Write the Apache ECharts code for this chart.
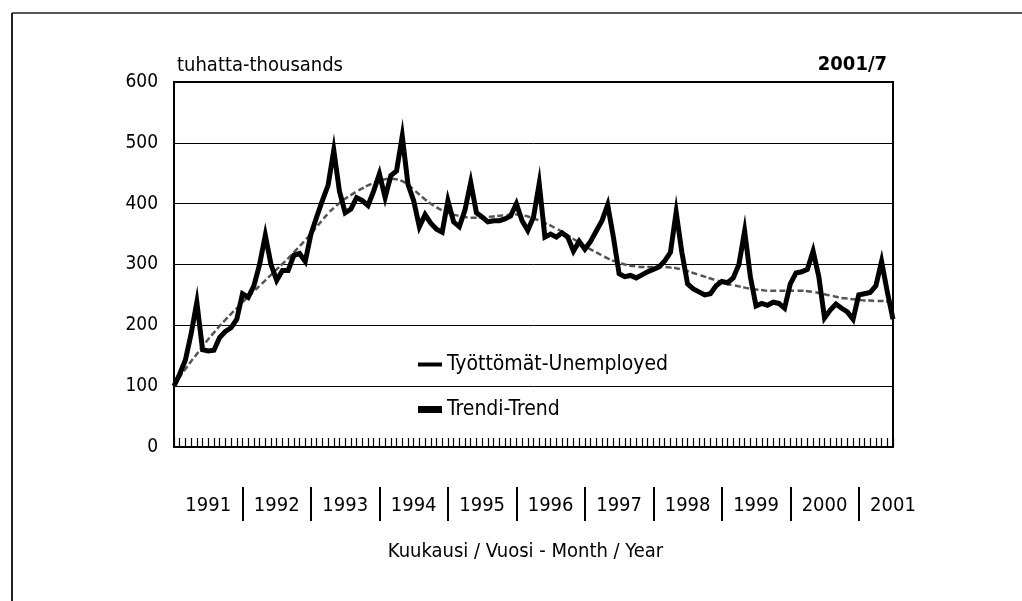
<!DOCTYPE html>
<html>
<head>
<meta charset="utf-8">
<style>
    html, body { margin: 0; padding: 0; background: #fff; }
    #chart { width: 1022px; height: 601px; }
</style>
<script src="https://cdn.jsdelivr.net/npm/echarts@6/dist/echarts.min.js"></script>
</head>
<body>
<div id="chart"></div>
<script>
    // monthly data 1991/1 - 2001/7, thousands
    var years = [1991, 1992, 1993, 1994, 1995, 1996, 1997, 1998, 1999, 2000, 2001];
    var months = [1, 2, 3, 4, 5, 6, 7, 8, 9, 10, 11, 12];
    var lastMonth = 7;

    var unemployed = [
        100, 120, 143, 186, 238, 160, 158, 159, 180, 190, 196, 210,
        252, 246, 265, 300, 348, 300, 274, 290, 290, 315, 318, 305,
        350, 378, 405, 430, 488, 420, 385, 391, 410, 405, 397, 421,
        449, 410, 446, 454, 511, 432, 405, 362, 382, 368, 358, 353,
        405, 370, 362, 390, 435, 385, 378, 370, 372, 372, 375, 380,
        400, 372, 356, 378, 433, 345, 350, 345, 352, 345, 322, 338,
        325, 338, 355, 372, 398, 345, 285, 280, 282, 278, 283, 288,
        292, 296, 306, 320, 386, 320, 268, 260, 255, 250, 252, 265,
        272, 270, 278, 300, 355, 280, 232, 236, 233, 238, 236, 228,
        268, 286, 288, 292, 322, 280, 212, 225, 235, 228, 222, 210,
        250, 252, 254, 265, 305, 255, 210
    ];
    var trend = [
        100, 115, 128, 141, 153, 165, 177, 188, 199, 209, 219, 228,
        238, 247, 256, 265, 274, 283, 292, 301, 310, 320, 330, 340,
        351, 362, 373, 384, 393, 401, 408, 414, 420, 425, 430, 434,
        438, 440, 441, 440, 437, 431, 423, 415, 407, 400, 394, 389,
        385, 382, 380, 378, 377, 377, 377, 378, 379, 380, 381, 382,
        382, 381, 379, 376, 372, 368, 364, 359, 354, 348, 342, 336,
        330, 325, 320, 315, 310, 306, 303, 300, 298, 297, 296, 296,
        296, 296, 296, 295, 294, 292, 289, 286, 283, 280, 277, 274,
        271, 268, 266, 264, 262, 260, 259, 258, 257, 257, 257, 257,
        257, 257, 257, 256, 255, 253, 251, 249, 247, 245, 244, 243,
        242, 241, 241, 240, 240, 239, 238
    ];
    var yTicks = [0, 100, 200, 300, 400, 500, 600];

    var categories = [];
    years.forEach(function (y) {
        months.forEach(function (m) {
            if (y < 2001 || m <= lastMonth) categories.push(y + '/' + m);
        });
    });

    var font = "'Liberation Sans Narrow', 'DejaVu Sans Condensed', 'Roboto Condensed', 'Liberation Sans', sans-serif";

    var chart = echarts.init(document.getElementById('chart'));
    var option = {
        backgroundColor: '#fff',
        animation: false,
        textStyle: {fontFamily: font, color: '#000'},
        title: [
            {
                text: 'tuhatta-thousands',
                left: 172,
                top: 51,
                textStyle: {fontFamily: font, fontSize: 20, fontWeight: 'normal', color: '#000'}
            },
            {
                text: '2001/7',
                right: 130,
                top: 50,
                textStyle: {fontFamily: font, fontSize: 20, fontWeight: 'bold', color: '#000'}
            }
        ],
        legend: {
            orient: 'vertical',
            left: 413,
            top: 349,
            itemWidth: 24,
            itemHeight: 8,
            itemGap: 24,
            textStyle: {fontFamily: font, fontSize: 21, color: '#000'},
            data: [
                {name: 'Työttömät-Unemployed', icon: 'path://M0,0H24V4H0Z', itemStyle: {color: '#000', borderWidth: 0}},
                {name: 'Trendi-Trend', icon: 'path://M0,0H24V7H0Z', itemStyle: {color: '#000', borderWidth: 0}}
            ]
        },
        grid: {
            left: 174,
            right: 129,
            top: 82,
            bottom: 154,
            show: true,
            borderColor: '#000',
            borderWidth: 2
        },
        xAxis: [
            {
                type: 'category',
                data: categories,
                boundaryGap: false,
                axisLine: {lineStyle: {color: '#000', width: 2}},
                axisTick: {show: true, inside: true, length: 9, interval: 0, lineStyle: {color: '#000', width: 1.2}},
                axisLabel: {
                    interval: function (i) { return i % 12 === 6; },
                    formatter: function (v) { return v.split('/')[0]; },
                    margin: 49,
                    fontFamily: font,
                    fontSize: 20,
                    color: '#000'
                },
                splitLine: {show: false},
                name: 'Kuukausi / Vuosi - Month / Year',
                nameLocation: 'middle',
                nameGap: 95,
                nameTextStyle: {fontFamily: font, fontSize: 20, color: '#000', padding: [0, 16, 0, 0]}
            },
            {
                type: 'category',
                data: categories,
                boundaryGap: false,
                position: 'bottom',
                offset: 40,
                axisLine: {show: false},
                axisTick: {
                    show: true,
                    length: 34,
                    interval: function (i) { return i % 12 === 0 && i > 0; },
                    lineStyle: {color: '#000', width: 2}
                },
                axisLabel: {show: false},
                splitLine: {show: false}
            }
        ],
        yAxis: {
            type: 'value',
            min: yTicks[0],
            max: yTicks[yTicks.length - 1],
            interval: 100,
            axisLine: {show: true, lineStyle: {color: '#000', width: 2}},
            axisTick: {show: false},
            axisLabel: {margin: 16, fontFamily: font, fontSize: 19, color: '#000'},
            splitLine: {lineStyle: {color: '#000', width: 1}}
        },
        graphic: [
            {type: 'line', shape: {x1: 12, y1: 13, x2: 1022, y2: 13}, style: {stroke: '#222', lineWidth: 1.5}},
            {type: 'line', shape: {x1: 12, y1: 13, x2: 12, y2: 601}, style: {stroke: '#222', lineWidth: 2}}
        ],
        series: [
            {
                name: 'Trendi-Trend',
                type: 'line',
                data: trend,
                symbol: 'none',
                smooth: true,
                z: 2,
                itemStyle: {color: '#555'},
                lineStyle: {color: '#555', width: 2.5, type: [6, 3]}
            },
            {
                name: 'Työttömät-Unemployed',
                type: 'line',
                data: unemployed,
                symbol: 'none',
                z: 3,
                itemStyle: {color: '#000'},
                lineStyle: {color: '#000', width: 5, join: 'miter'}
            }
        ]
    };
    chart.setOption(option);
</script>
</body>
</html>
